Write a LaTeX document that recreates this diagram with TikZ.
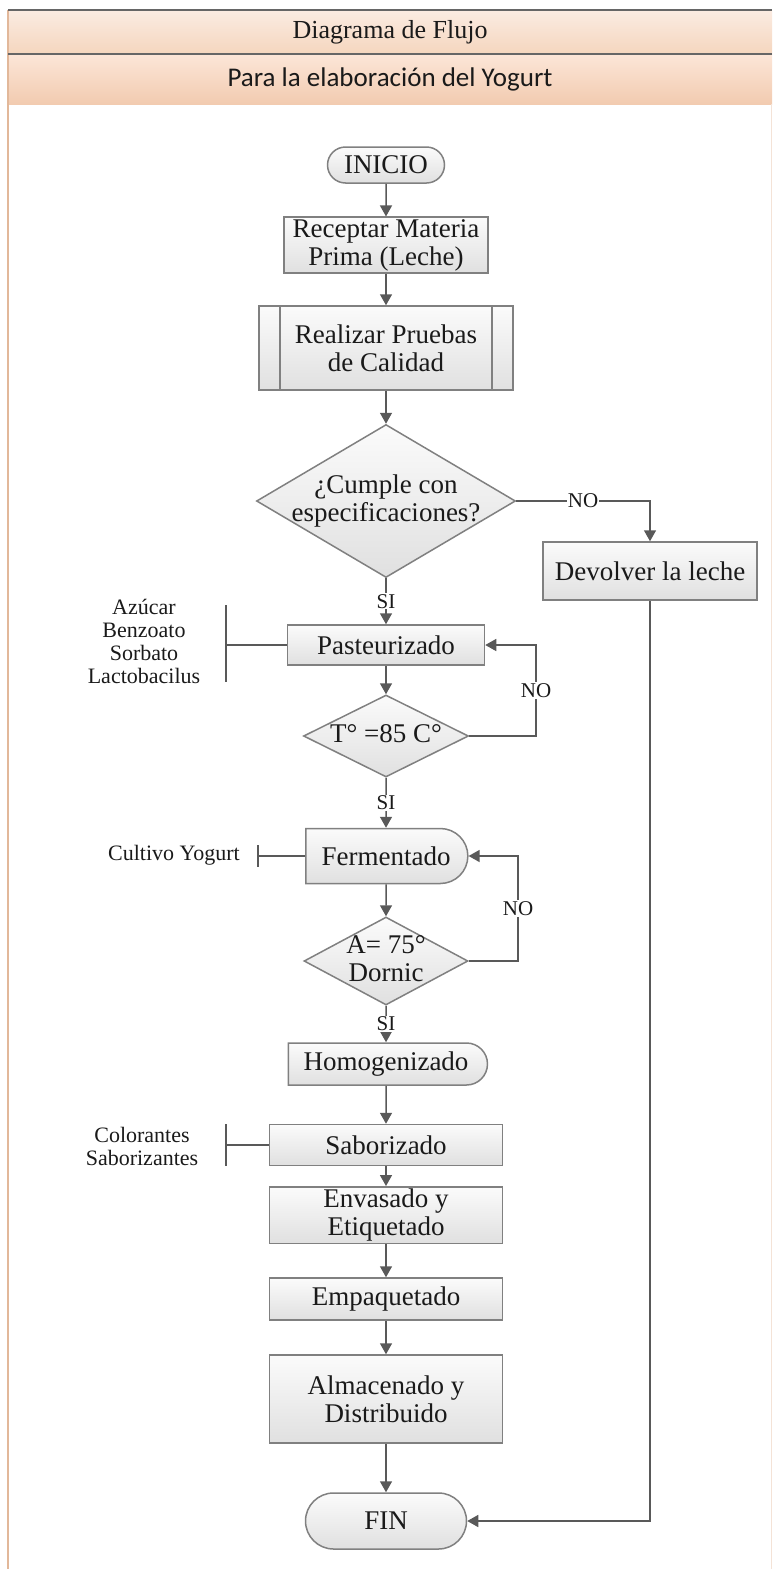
\documentclass[tikz,border=0pt]{standalone}
\usepackage{fontspec}
\setmainfont{Liberation Serif}
\newfontfamily\calibri{Carlito}
\usepackage{tikz}
\usetikzlibrary{
    arrows.meta,
    shapes.geometric,
    shapes.misc,
    positioning
}
\definecolor{linegray}{RGB}{89,89,89}
\definecolor{boxgray}{RGB}{128,128,128}
\definecolor{boxtop}{RGB}{251,251,251}
\definecolor{boxbot}{RGB}{224,224,224}
\definecolor{headtop}{RGB}{251,236,226}
\definecolor{headbot}{RGB}{245,214,190}
\definecolor{subtop}{RGB}{252,230,216}
\definecolor{subbot}{RGB}{242,203,176}
\definecolor{frameorange}{RGB}{226,184,154}
\definecolor{textdark}{RGB}{26,26,26}
\newcommand{\flowfont}{\fontsize{27}{28}\selectfont}
\newcommand{\notefont}{\fontsize{22}{23}\selectfont}
\newcommand{\tagfont}{\fontsize{21}{22}\selectfont}
\newcommand{\flatlines}[1]{\makebox[0pt]{\raisebox{-0.25em}[0pt][0pt]{\begin{tabular}{@{}c@{}}#1\end{tabular}}}}
\tikzstyle{box} = [
    rectangle,
    draw=boxgray,
    line width=1.5pt,
    top color=boxtop,
    bottom color=boxbot,
    text=textdark,
    font=\flowfont,
    align=center,
    inner sep=2pt
]
\tikzstyle{term} = [box, rounded rectangle]
\tikzstyle{delay} = [box, rounded rectangle, rounded rectangle left arc=none]
\tikzstyle{subproc} = [box, path picture={
    \draw[boxgray, line width=1.5pt] ([xshift=21pt]path picture bounding box.north west) -- ([xshift=21pt]path picture bounding box.south west);
    \draw[boxgray, line width=1.5pt] ([xshift=-21pt]path picture bounding box.north east) -- ([xshift=-21pt]path picture bounding box.south east);
}]
\tikzstyle{decision} = [box, diamond, inner sep=0pt]
\tikzstyle{note} = [font=\notefont, text=textdark, align=center]
\tikzstyle{tag} = [font=\tagfont, fill=white, text=textdark, inner sep=1pt]
\tikzstyle{arrow} = [
    -{Triangle[length=11pt, width=12pt]},
    line width=1.5pt,
    draw=linegray
]
\tikzstyle{line} = [line width=1.5pt, draw=linegray]
\tikzstyle{header} = [rectangle, minimum width=764pt, text=textdark]

\begin{document}
\begin{tikzpicture}[x=1pt, y=-1pt]
    \useasboundingbox (0,0) rectangle (776,1569);

    % Encabezado
    \node[header, top color=headtop, bottom color=headbot, minimum height=44pt, font=\fontsize{26}{28}\selectfont] (titulo) at (390,32) {Diagrama de Flujo};
    \node[header, top color=subtop, bottom color=subbot, minimum height=50pt, font=\calibri\fontsize{27}{28}\selectfont] (subtitulo) at (390,79) {Para la elaboración del Yogurt};
    \draw[frameorange, line width=2pt] (8,10) -- (8,1569);
    \draw[frameorange!40, line width=1pt] (771,104) -- (771,1569);
    \draw[black!60, line width=1.5pt] (titulo.north west) -- (titulo.north east);
    \draw[black!60, line width=1.5pt] (titulo.south west) -- (titulo.south east);

    % INICIO
    \node[term, minimum width=121pt, minimum height=36pt] (inicio) at (386,165) {INICIO};

    % Receptar Materia Prima
    \node[box, minimum width=204pt, minimum height=54pt] (receptar) at (386,245) {Receptar Materia\\Prima (Leche)};

    % Pruebas de calidad
    \node[subproc, minimum width=254pt, minimum height=84pt] (pruebas) at (386,348) {Realizar Pruebas\\de Calidad};

    % Especificaciones
    \node[decision, minimum width=259pt, minimum height=153pt] (cumple) at (386,501) {\flatlines{¿Cumple con\\especificaciones?}};

    % Devolver
    \node[box, minimum width=214pt, minimum height=58pt] (devolver) at (650,571) {Devolver la leche};

    % Pasteurizado
    \node[box, minimum width=197pt, minimum height=40pt] (pasteurizado) at (386,645) {Pasteurizado};
    \node[note] (aditivos) at (144,641) {Azúcar\\Benzoato\\Sorbato\\Lactobacilus};
    \coordinate (bar1) at (226,645);

    % Temperatura
    \node[decision, minimum width=165pt, minimum height=82pt] (temp) at (386,736) {\flatlines{T° =85 C°}};
    \coordinate (loop1) at (536,736);

    % Fermentado
    \node[delay, minimum width=166pt, minimum height=55pt] (fermentado) at (386,856) {Fermentado};
    \node[note] (cultivo) at (174,855) {Cultivo Yogurt};
    \coordinate (bar2) at (258,856);

    % Acidez
    \node[decision, minimum width=164pt, minimum height=88pt] (acidez) at (386,961) {\flatlines{A= 75°\\Dornic}};
    \coordinate (loop2) at (518,961);

    % Homogenizado
    \node[delay, minimum width=203pt, minimum height=42pt] (homog) at (386,1064) {Homogenizado};

    % Saborizado
    \node[box, minimum width=233pt, minimum height=41pt] (saborizado) at (386,1145) {Saborizado};
    \node[note] (sabores) at (142,1146) {Colorantes\\Saborizantes};
    \coordinate (bar3) at (226,1145);

    % Envasado
    \node[box, minimum width=233pt, minimum height=55pt] (envasado) at (386,1215) {Envasado y\\Etiquetado};

    % Empaquetado
    \node[box, minimum width=233pt, minimum height=42pt] (empaquetado) at (386,1299) {Empaquetado};

    % Almacenado
    \node[box, minimum width=233pt, minimum height=88pt] (almacenado) at (386,1399) {Almacenado y\\Distribuido};

    % FIN
    \node[term, minimum width=165pt, minimum height=56pt] (fin) at (386,1521) {FIN};
    \coordinate (ret) at (650,1521);

    % Arrows
    \draw[arrow] (inicio) -- (receptar);
    \draw[arrow] (receptar) -- (pruebas);
    \draw[arrow] (pruebas) -- (cumple);
    \draw[arrow] (cumple.east) -| node[tag, pos=0.25] {NO} (devolver.north);
    \draw[arrow] (cumple) -- node[tag] {SI} (pasteurizado);
    \draw[arrow] (pasteurizado) -- (temp);
    \draw[arrow] (temp.east) -- (loop1) |- node[tag, pos=0.25] {NO} (pasteurizado.east);
    \draw[arrow] (temp) -- node[tag] {SI} (fermentado);
    \draw[arrow] (fermentado) -- (acidez);
    \draw[arrow] (acidez.east) -- (loop2) |- node[tag, pos=0.25] {NO} (fermentado.east);
    \draw[arrow] (acidez) -- node[tag] {SI} (homog);
    \draw[arrow] (homog) -- (saborizado);
    \draw[arrow] (saborizado) -- (envasado);
    \draw[arrow] (envasado) -- (empaquetado);
    \draw[arrow] (empaquetado) -- (almacenado);
    \draw[arrow] (almacenado) -- (fin);
    \draw[arrow] (devolver) -- (ret) -- (fin.east);

    % Entradas
    \draw[line] (pasteurizado.west) -- (bar1);
    \draw[line] ([yshift=40pt]bar1) -- ([yshift=-37pt]bar1);
    \draw[line] (fermentado.west) -- (bar2);
    \draw[line] ([yshift=11pt]bar2) -- ([yshift=-11pt]bar2);
    \draw[line] (saborizado.west) -- (bar3);
    \draw[line] ([yshift=21pt]bar3) -- ([yshift=-21pt]bar3);
\end{tikzpicture}
\end{document}
